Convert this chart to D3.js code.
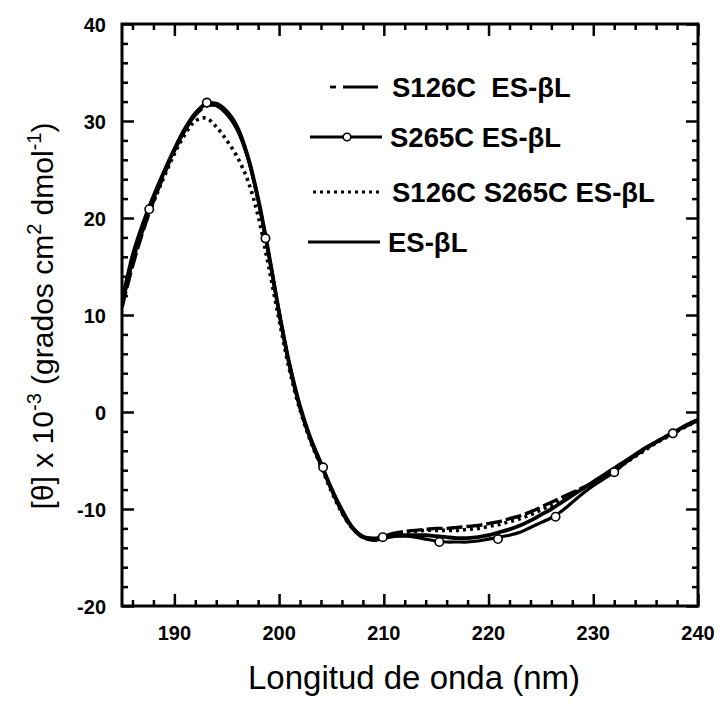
<!DOCTYPE html>
<html>
<head>
<meta charset="utf-8">
<script src="https://cdn.jsdelivr.net/npm/d3@7"></script>
<style>
  body { margin: 0; background: #fff; }
  svg { display: block; font-family: "Liberation Sans", Arial, sans-serif; }
</style>
</head>
<body>
<div id="chart"></div>
<script>
// wavelength grid (nm)
const wavelengths = d3.range(185, 241);

// [θ] x 10^-3, 1 nm steps
const esBL = [
  11.0, 15.6, 19.0, 22.0, 24.7, 27.1, 29.2, 30.8, 31.7, 31.8,
  31.0, 29.4, 26.4, 22.0, 16.4, 10.3, 4.9, 0.6, -2.7, -5.3,
  -7.9, -10.1, -11.9, -12.9, -13.2, -13.0, -12.8, -12.7, -12.7, -12.7,
  -12.8, -12.9, -13.0, -13.0, -12.9, -12.7, -12.4, -12.1, -11.7, -11.2,
  -10.6, -10.0, -9.3, -8.6, -7.9, -7.2, -6.5, -5.8, -5.1, -4.4,
  -3.7, -3.1, -2.5, -1.9, -1.3, -0.8
];
const s265c = [
  11.5, 16.2, 19.5, 22.3, 24.8, 27.0, 29.0, 30.7, 31.8, 31.6,
  30.7, 29.1, 26.2, 21.8, 16.3, 10.2, 4.7, 0.4, -2.9, -5.5,
  -8.0, -10.2, -11.9, -12.8, -13.0, -12.9, -12.8, -12.8, -12.9, -13.1,
  -13.3, -13.4, -13.4, -13.4, -13.3, -13.1, -12.9, -12.7, -12.4, -11.9,
  -11.4, -10.9, -10.2, -9.3, -8.4, -7.6, -6.9, -6.2, -5.3, -4.5,
  -3.7, -3.1, -2.5, -1.9, -1.4, -0.9
];
const s126c = [
  10.8, 15.0, 18.6, 21.7, 24.4, 26.9, 29.0, 30.6, 31.5, 31.6,
  30.8, 29.2, 26.3, 21.9, 16.3, 10.3, 4.8, 0.5, -2.8, -5.4,
  -8.0, -10.3, -12.0, -12.9, -13.1, -12.8, -12.5, -12.3, -12.2, -12.1,
  -12.0, -12.0, -11.9, -11.8, -11.7, -11.5, -11.3, -11.0, -10.7, -10.3,
  -9.8, -9.3, -8.8, -8.3, -7.8, -7.3, -6.6, -5.9, -5.2, -4.5,
  -3.8, -3.1, -2.5, -1.9, -1.3, -0.8
];
const s126cS265c = [
  11.5, 15.5, 18.8, 21.6, 24.2, 26.6, 28.6, 30.0, 30.3, 29.4,
  28.0, 26.3, 23.9, 20.2, 15.0, 9.5, 4.3, 0.2, -3.0, -5.6,
  -8.2, -10.4, -12.0, -12.9, -13.1, -12.9, -12.6, -12.4, -12.3, -12.2,
  -12.2, -12.2, -12.2, -12.1, -12.0, -11.8, -11.6, -11.3, -11.0, -10.6,
  -10.1, -9.6, -9.0, -8.4, -7.9, -7.3, -6.7, -6.0, -5.3, -4.6,
  -3.9, -3.2, -2.6, -2.0, -1.4, -0.9
];

// open-circle symbols on the S265C trace
const markerX = [187.6, 193.1, 198.7, 204.2, 209.9, 215.3, 220.9, 226.4, 232.0, 237.6];
const markerY = [20.9, 31.9, 17.9, -5.7, -12.9, -13.4, -13.1, -10.8, -6.2, -2.2];

const xTicks = [190, 200, 210, 220, 230, 240];
const yTicks = [-20, -10, 0, 10, 20, 30, 40];

const seriesNames = ["S126C\u00A0\u00A0ES-\u03B2L", "S265C ES-\u03B2L", "S126C S265C ES-\u03B2L", "ES-\u03B2L"];

const width = 722;
const height = 704;
const margin = { top: 24, right: 24, bottom: 98, left: 122 };
const innerWidth = width - margin.left - margin.right;
const innerHeight = height - margin.top - margin.bottom;

const svg = d3.select("#chart").append("svg")
  .attr("width", width)
  .attr("height", height);

const x = d3.scaleLinear().domain([185, 240]).range([0, innerWidth]);
const y = d3.scaleLinear().domain([-20, 40]).range([innerHeight, 0]);

const g = svg.append("g").attr("transform", `translate(${margin.left},${margin.top})`);

g.append("defs").append("clipPath").attr("id", "plot-clip")
  .append("rect").attr("width", innerWidth).attr("height", innerHeight);

// inward ticks on all four sides
const majorLen = 12;
const minorLen = 6;
const xMinor = d3.range(186, 240, 2).filter((v) => v % 10 !== 0);
const yMinor = d3.range(-18, 40, 2).filter((v) => v % 10 !== 0);

function addAxis(axis, transform) {
  g.append("g").attr("transform", transform).call(axis)
    .call((s) => s.select(".domain").remove())
    .call((s) => s.selectAll(".tick text").remove())
    .call((s) => s.selectAll(".tick line").attr("stroke", "#000").attr("stroke-width", 2.5));
}

addAxis(d3.axisBottom(x).tickValues(xTicks).tickSize(-majorLen), `translate(0,${innerHeight})`);
addAxis(d3.axisBottom(x).tickValues(xMinor).tickSize(-minorLen), `translate(0,${innerHeight})`);
addAxis(d3.axisTop(x).tickValues(xTicks).tickSize(-majorLen), "translate(0,0)");
addAxis(d3.axisTop(x).tickValues(xMinor).tickSize(-minorLen), "translate(0,0)");
addAxis(d3.axisLeft(y).tickValues(yTicks).tickSize(-majorLen), "translate(0,0)");
addAxis(d3.axisLeft(y).tickValues(yMinor).tickSize(-minorLen), "translate(0,0)");
addAxis(d3.axisRight(y).tickValues(yTicks).tickSize(-majorLen), `translate(${innerWidth},0)`);
addAxis(d3.axisRight(y).tickValues(yMinor).tickSize(-minorLen), `translate(${innerWidth},0)`);

// tick labels
g.selectAll(".xlab").data(xTicks).join("text")
  .attr("class", "xlab")
  .attr("x", (d) => x(d))
  .attr("y", innerHeight + 34)
  .attr("text-anchor", "middle")
  .attr("font-size", 20)
  .attr("font-weight", "bold")
  .text((d) => d);

g.selectAll(".ylab").data(yTicks).join("text")
  .attr("class", "ylab")
  .attr("x", -16)
  .attr("y", (d) => y(d) + 8)
  .attr("text-anchor", "end")
  .attr("font-size", 20)
  .attr("font-weight", "bold")
  .text((d) => d);

// frame
g.append("rect")
  .attr("width", innerWidth)
  .attr("height", innerHeight)
  .attr("fill", "none")
  .attr("stroke", "#000")
  .attr("stroke-width", 3);

// curves
const line = d3.line()
  .x((d) => x(d[0]))
  .y((d) => y(d[1]))
  .curve(d3.curveCatmullRom);

const styles = [
  { values: s126c, dash: "16,4", width: 3.4 },
  { values: s265c, dash: null, width: 3.2 },
  { values: s126cS265c, dash: "3,4", width: 3.6 },
  { values: esBL, dash: null, width: 3.8 },
];

const plot = g.append("g").attr("clip-path", "url(#plot-clip)");

styles.forEach((s) => {
  plot.append("path")
    .datum(wavelengths.map((w, i) => [w, s.values[i]]))
    .attr("d", line)
    .attr("fill", "none")
    .attr("stroke", "#000")
    .attr("stroke-width", s.width)
    .attr("stroke-dasharray", s.dash)
    .attr("stroke-linejoin", "round");
});

plot.selectAll(".marker").data(markerX.map((v, i) => [v, markerY[i]])).join("circle")
  .attr("class", "marker")
  .attr("cx", (d) => x(d[0]))
  .attr("cy", (d) => y(d[1]))
  .attr("r", 4.2)
  .attr("fill", "#fff")
  .attr("stroke", "#000")
  .attr("stroke-width", 1.6);

// legend
const legendRows = [
  { y: 63, x1: 221, x2: 256, dash: null, pre: true },
  { y: 113, x1: 188, x2: 260, dash: null, marker: true },
  { y: 168, x1: 191, x2: 260, dash: "3,4" },
  { y: 218, x1: 186, x2: 258, dash: null },
];
const legendTextX = [270, 268, 270, 266];

legendRows.forEach((r, i) => {
  const lg = g.append("g");
  if (r.pre) {
    lg.append("line").attr("x1", 208).attr("x2", 214)
      .attr("y1", r.y).attr("y2", r.y).attr("stroke", "#000").attr("stroke-width", 2.8);
  }
  lg.append("line")
    .attr("x1", r.x1).attr("x2", r.x2)
    .attr("y1", r.y).attr("y2", r.y)
    .attr("stroke", "#000")
    .attr("stroke-width", 2.8)
    .attr("stroke-dasharray", r.dash);
  if (r.marker) {
    lg.append("circle").attr("cx", 225).attr("cy", r.y).attr("r", 3.8)
      .attr("fill", "#fff").attr("stroke", "#000").attr("stroke-width", 1.6);
  }
  lg.append("text")
    .attr("x", legendTextX[i])
    .attr("y", r.y + 10)
    .attr("font-size", 27.5)
    .attr("font-weight", "bold")
    .text(seriesNames[i]);
});

// axis titles
svg.append("text")
  .attr("x", margin.left + innerWidth / 2 + 4)
  .attr("y", 689)
  .attr("text-anchor", "middle")
  .attr("font-size", 33)
  .text("Longitud de onda (nm)");

const yTitle = svg.append("text")
  .attr("transform", `translate(53,316) rotate(-90)`)
  .attr("text-anchor", "middle")
  .attr("font-size", 30);
yTitle.append("tspan").text("[\u03B8] x 10");
yTitle.append("tspan").attr("font-size", 20).attr("dy", -12).text("-3");
yTitle.append("tspan").attr("dy", 12).text(" (grados cm");
yTitle.append("tspan").attr("font-size", 20).attr("dy", -12).text("2");
yTitle.append("tspan").attr("dy", 12).text(" dmol");
yTitle.append("tspan").attr("font-size", 20).attr("dy", -12).text("-1");
yTitle.append("tspan").attr("dy", 12).text(")");
</script>
</body>
</html>
